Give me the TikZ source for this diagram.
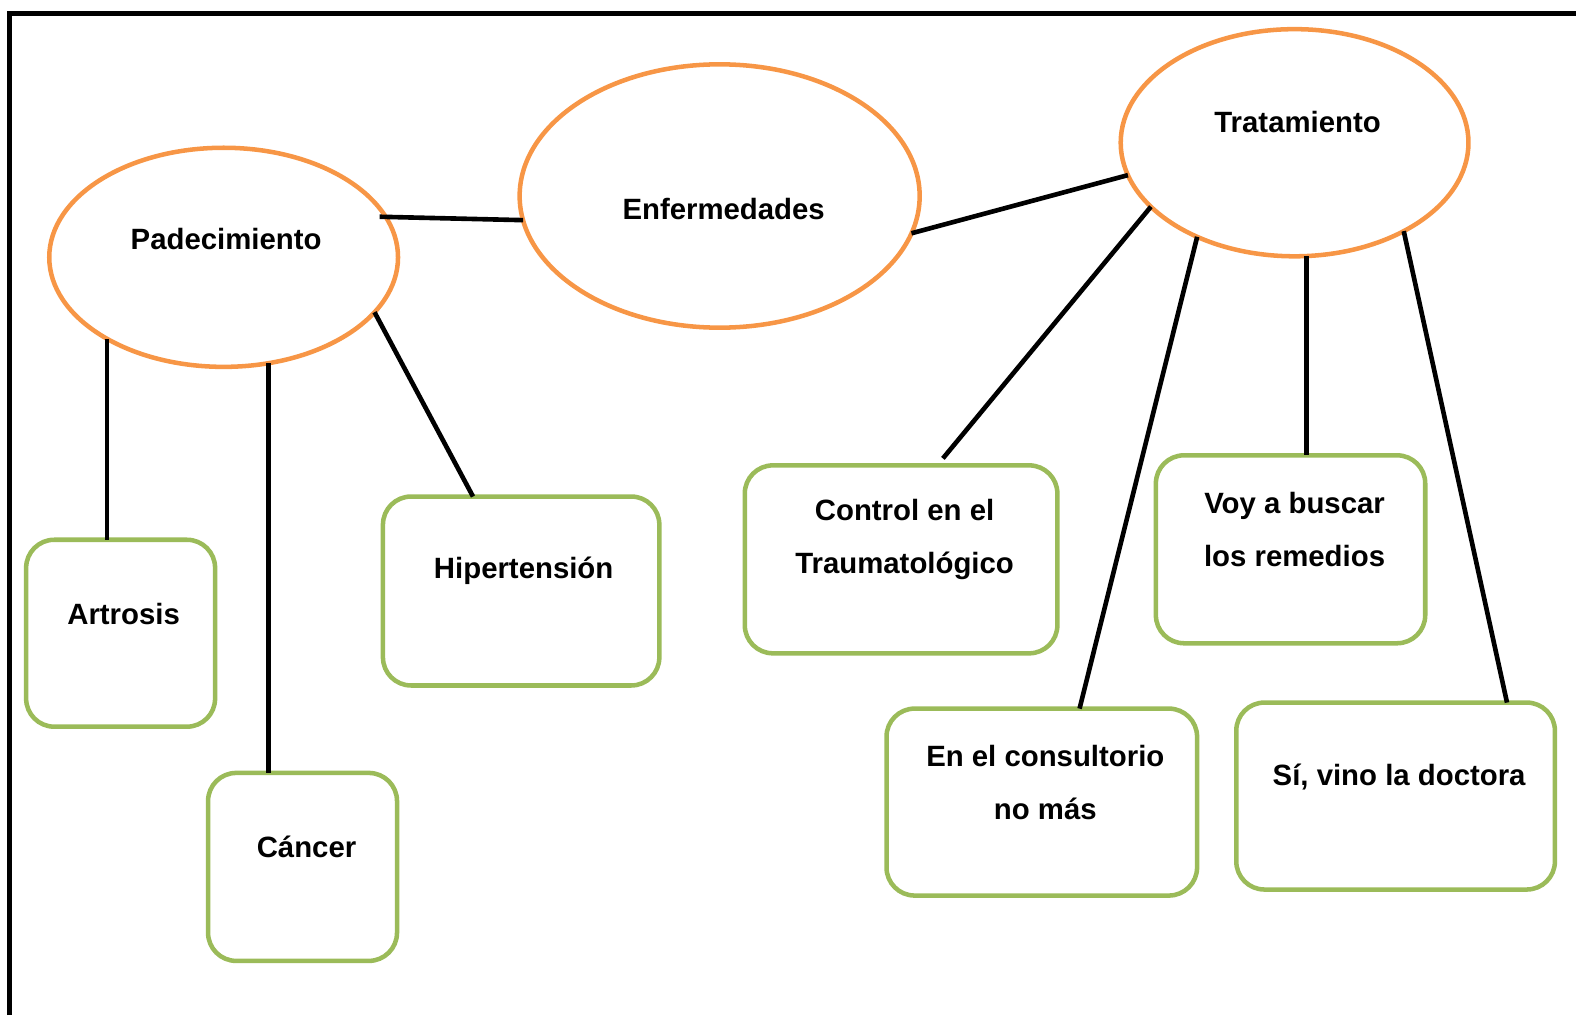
\documentclass[tikz,border=0pt]{standalone}
\usepackage{fontspec}
\setmainfont{Liberation Sans}
\usetikzlibrary{shapes.geometric}
\definecolor{naranja}{RGB}{247,150,70}
\definecolor{verde}{RGB}{155,187,89}

\tikzset{
  tema/.style={ellipse, draw=naranja, line width=4.5pt, inner sep=0pt, outer sep=0pt},
  caja/.style={rectangle, rounded corners=28pt, draw=verde, line width=4.5pt, inner sep=0pt, outer sep=0pt},
  texto/.style={font=\fontsize{29.2}{53}\selectfont\bfseries, align=center, inner sep=0pt},
  linea/.style={line width=4.6pt}
}

\begin{document}
\begin{tikzpicture}[x=1pt, y=-1pt]
\useasboundingbox (0,0) rectangle (1568,1010);
\draw[line width=5pt] (9.5,1010) -- (9.5,13.4) -- (1568,13.4);
% temas
\node[tema, minimum width=347pt, minimum height=218pt] (pad) at (222.5,256) {};
\node[tema, minimum width=398pt, minimum height=262pt] (enf) at (716,195) {};
\node[tema, minimum width=346pt, minimum height=226pt] (tra) at (1288,142) {};
\node[texto] (padtxt) at (225,238) {Padecimiento};
\node[texto] (enftxt) at (720,208) {Enfermedades};
\node[texto] (tratxt) at (1291,121) {Tratamiento};
% cajas
\node[caja, minimum width=188pt, minimum height=186pt] (art) at (120,630) {};
\node[caja, minimum width=188pt, minimum height=187pt] (can) at (301,862.5) {};
\node[caja, minimum width=275pt, minimum height=188pt] (hip) at (518.5,588) {};
\node[caja, minimum width=311pt, minimum height=187pt] (con) at (896.5,556.5) {};
\node[caja, minimum width=268pt, minimum height=187pt] (voy) at (1284,546.5) {};
\node[caja, minimum width=309pt, minimum height=186pt] (cons) at (1036.5,798) {};
\node[caja, minimum width=317pt, minimum height=186pt] (si) at (1388.5,792) {};
\node[texto] (arttxt) at (123,611) {Artrosis};
\node[texto] (cantxt) at (305,843) {Cáncer};
\node[texto] (hiptxt) at (521,568) {Hipertensión};
\node[texto] (contxt) at (900,537) {Control en el\\Traumatológico};
\node[texto] (voytxt) at (1288,526.5) {Voy a buscar\\los remedios};
\node[texto] (constxt) at (1040,778.5) {En el consultorio\\no más};
\node[texto] (sitxt) at (1392,773) {Sí, vino la doctora};
% lineas
\draw[linea, shorten <=-6pt] (pad.14.3) -- (enf.187.2);
\draw[linea] (enf.-11.9) -- (tra.191.4);
\draw[linea] (pad.215.5) -- (pad.215.5 |- art.north);
\draw[linea] (pad.-67) -- (pad.-67 |- can.north);
\draw[linea] (pad.-20.3) -- (hip.117.8);
\draw[linea, shorten >=9pt] (tra.204.6) -- (con.69.7);
\draw[linea] (tra.224.4) -- (cons.68.6);
\draw[linea] (tra.-84) -- (tra.-84 |- voy.north);
\draw[linea] (tra.-39.5) -- (si.40.6);
\end{tikzpicture}
\end{document}
